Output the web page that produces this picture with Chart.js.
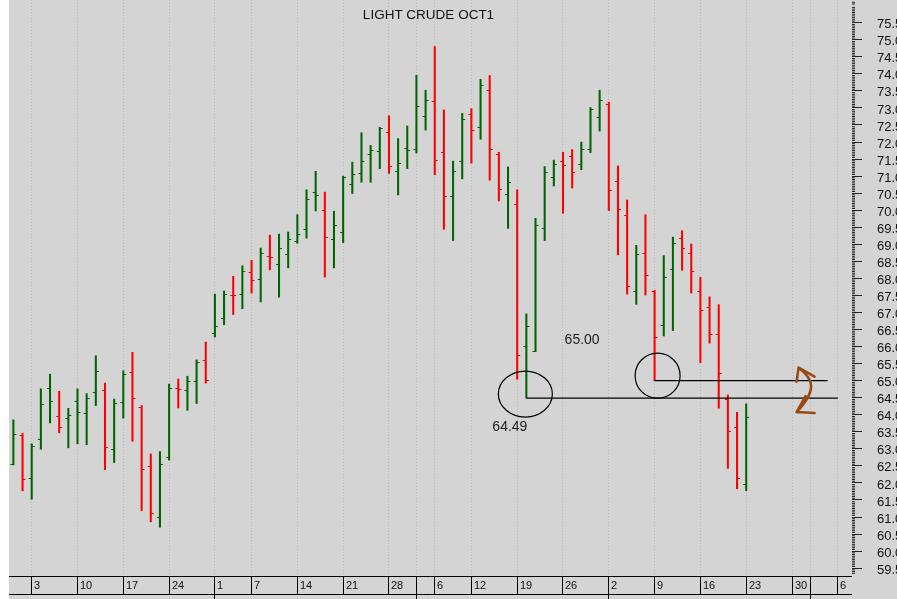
<!DOCTYPE html>
<html>
<head>
<meta charset="utf-8">
<title>Light Crude Oct1</title>
<script src="https://cdn.jsdelivr.net/npm/chart.js@4.4.0/dist/chart.umd.min.js"></script>
<style>
  html, body { margin: 0; padding: 0; background: #fff; }
  #wrap { width: 897px; height: 599px; }
</style>
</head>
<body>
<div id="wrap"><canvas id="myChart" width="897" height="599"></canvas></div>
<script>
'use strict';

const title = 'LIGHT CRUDE OCT1';

const dates = [
  'Apr 29', 'Apr 30',
  'May 3', 'May 4', 'May 5', 'May 6', 'May 7',
  'May 10', 'May 11', 'May 12', 'May 13', 'May 14',
  'May 17', 'May 18', 'May 19', 'May 20', 'May 21',
  'May 24', 'May 25', 'May 26', 'May 27', 'May 28',
  'Jun 1', 'Jun 2', 'Jun 3', 'Jun 4',
  'Jun 7', 'Jun 8', 'Jun 9', 'Jun 10', 'Jun 11',
  'Jun 14', 'Jun 15', 'Jun 16', 'Jun 17', 'Jun 18',
  'Jun 21', 'Jun 22', 'Jun 23', 'Jun 24', 'Jun 25',
  'Jun 28', 'Jun 29', 'Jun 30', 'Jul 1', 'Jul 2',
  'Jul 6', 'Jul 7', 'Jul 8', 'Jul 9',
  'Jul 12', 'Jul 13', 'Jul 14', 'Jul 15', 'Jul 16',
  'Jul 19', 'Jul 20', 'Jul 21', 'Jul 22', 'Jul 23',
  'Jul 26', 'Jul 27', 'Jul 28', 'Jul 29', 'Jul 30',
  'Aug 2', 'Aug 3', 'Aug 4', 'Aug 5', 'Aug 6',
  'Aug 9', 'Aug 10', 'Aug 11', 'Aug 12', 'Aug 13',
  'Aug 16', 'Aug 17', 'Aug 18', 'Aug 19', 'Aug 20',
  'Aug 23'
];

const opens = [
  62.55, 63.42,
  62.14, 63.28, 64.78, 63.95, 63.91,
  64.41, 64.05, 64.67, 64.72, 63.00,
  64.38, 65.25, 64.23, 62.51, 61.00,
  62.77, 64.78, 64.72, 64.98, 65.61,
  66.40, 66.84, 67.51, 67.55,
  68.19, 67.99, 68.66, 68.42, 68.73,
  69.09, 69.46, 70.53, 70.00, 69.16,
  69.36, 70.76, 71.09, 71.64, 71.73,
  72.30, 71.16, 71.83, 71.80, 72.76,
  73.20, 71.70, 70.43, 71.44,
  72.83, 72.43, 73.54, 71.64, 70.47,
  70.19, 66.02, 65.87, 69.49, 70.98,
  71.45, 71.60, 71.37, 71.80, 72.74,
  73.12, 70.87, 69.86, 67.62, 68.75,
  67.63, 66.63, 68.29, 69.19, 68.75,
  67.62, 67.16, 66.36, 64.46, 63.65,
  61.98
];

const highs = [
  63.85, 63.45,
  63.15, 64.76, 65.19, 64.69, 64.19,
  64.76, 64.62, 65.73, 64.93, 64.46,
  65.29, 65.83, 64.27, 62.85, 62.92,
  64.90, 65.05, 65.13, 65.61, 66.13,
  67.54, 67.63, 68.06, 68.37,
  68.53, 68.89, 69.27, 69.30, 69.36,
  69.87, 70.60, 71.14, 70.53, 69.97,
  71.00, 71.41, 72.27, 71.90, 72.43,
  72.77, 72.10, 72.47, 73.96, 73.52,
  74.80, 72.94, 71.44, 72.84,
  72.98, 73.84, 73.95, 71.70, 71.27,
  70.60, 66.96, 69.76, 71.28, 71.47,
  71.70, 71.78, 72.00, 73.01, 73.52,
  73.17, 71.30, 70.30, 68.97, 69.87,
  67.65, 68.67, 69.21, 69.40, 69.01,
  68.03, 67.46, 67.23, 64.58, 64.07,
  64.32
];

const lows = [
  62.53, 61.77,
  61.52, 62.99, 63.76, 63.47, 63.03,
  63.15, 63.12, 64.27, 62.39, 62.60,
  63.90, 63.22, 61.19, 60.86, 60.70,
  62.67, 64.20, 64.13, 64.33, 64.93,
  66.28, 66.64, 66.94, 67.11,
  67.57, 67.31, 68.25, 67.45, 68.31,
  69.03, 69.18, 69.98, 68.04, 68.31,
  69.05, 70.49, 70.82, 70.82, 71.22,
  71.08, 70.45, 71.22, 71.68, 72.35,
  71.04, 69.44, 69.11, 70.92,
  71.38, 72.08, 70.88, 70.27, 69.47,
  65.04, 64.49, 65.85, 69.11, 70.71,
  69.91, 70.65, 71.19, 71.69, 72.32,
  69.99, 68.69, 67.54, 67.24, 67.51,
  65.00, 66.31, 66.47, 68.24, 67.57,
  65.53, 66.10, 64.19, 62.43, 61.83,
  61.77
];

const closes = [
  63.45, 62.11,
  63.09, 64.31, 64.39, 63.65, 63.98,
  64.08, 64.49, 65.29, 63.04, 64.35,
  65.19, 64.49, 62.40, 61.11, 62.55,
  64.78, 64.77, 64.98, 65.56, 65.01,
  66.61, 67.55, 67.50, 68.23,
  67.95, 68.75, 68.64, 68.88, 69.16,
  69.30, 70.33, 70.46, 69.20, 69.56,
  70.98, 71.06, 71.44, 71.77, 72.40,
  71.29, 71.39, 71.77, 73.07, 73.23,
  71.46, 70.43, 71.16, 72.67,
  72.36, 73.68, 71.80, 70.62, 70.83,
  65.76, 66.61, 69.56, 71.13, 71.37,
  71.33, 71.13, 71.80, 72.97, 73.24,
  70.60, 70.03, 67.79, 68.73, 68.09,
  66.28, 68.05, 69.03, 68.89, 68.23,
  67.07, 66.36, 65.22, 63.53, 62.15,
  63.92
];

// session numbers (0 = Apr 29) of the weekly separators on the date strip
const tickPos = [2, 7, 12, 17, 22, 26, 31, 36, 41, 44, 46, 50, 55, 60, 65, 70, 75, 80, 85, 87, 90];
const tickText = ['3', '10', '17', '24', '1', '7', '14', '21', '28', '', '6', '12', '19', '26', '2', '9', '16', '23', '30', '', '6'];
const monthStarts = [22, 44, 65, 87];

const priceTicks = [
  59.5, 60.0, 60.5, 61.0, 61.5, 62.0, 62.5, 63.0, 63.5, 64.0, 64.5,
  65.0, 65.5, 66.0, 66.5, 67.0, 67.5, 68.0, 68.5, 69.0, 69.5, 70.0,
  70.5, 71.0, 71.5, 72.0, 72.5, 73.0, 73.5, 74.0, 74.5, 75.0, 75.5
];

const FONT = '"Liberation Sans", Arial, sans-serif';
const GREEN = 'rgb(0, 100, 0)';
const RED = 'rgb(255, 0, 0)';

// bar colour follows the close against the previous close
const barColors = closes.map((c, i) => (i === 0 || c >= closes[i - 1]) ? GREEN : RED);

const data = {
  labels: dates,
  datasets: [{
    label: title,
    data: dates.map((d, i) => ({ x: i, y: [lows[i], highs[i]] })),
    backgroundColor: barColors,
    borderWidth: 0,
    barThickness: 1.4
  }]
};

// grey panel + dotted weekly grid
const backdrop = {
  id: 'backdrop',
  beforeDraw(chart) {
    const { ctx, width, height, chartArea: { left } } = chart;
    ctx.save();
    ctx.fillStyle = '#fff';
    ctx.fillRect(0, 0, width, height);
    ctx.fillStyle = '#d4d4d4';
    ctx.fillRect(left, 0, width - left, height);
    ctx.restore();
  },
  beforeDatasetsDraw(chart) {
    const { ctx, chartArea: { top, bottom }, scales: { x } } = chart;
    ctx.save();
    ctx.strokeStyle = '#b9b9b9';
    ctx.lineWidth = 1;
    ctx.setLineDash([1, 2]);
    tickPos.forEach(p => {
      const px = Math.floor(x.getPixelForValue(p)) + 0.5;
      ctx.beginPath();
      ctx.moveTo(px, top);
      ctx.lineTo(px, bottom);
      ctx.stroke();
    });
    ctx.restore();
  }
};

// open tick on the left, close tick on the right
const ohlcTicks = {
  id: 'ohlcTicks',
  afterDatasetsDraw(chart) {
    const { ctx, scales: { x, y } } = chart;
    ctx.save();
    ctx.lineWidth = 1;
    dates.forEach((d, i) => {
      const px = x.getPixelForValue(i);
      const yo = Math.round(y.getPixelForValue(opens[i])) + 0.5;
      const yc = Math.round(y.getPixelForValue(closes[i])) + 0.5;
      ctx.strokeStyle = barColors[i];
      ctx.beginPath();
      ctx.moveTo(px - 3, yo);
      ctx.lineTo(px, yo);
      ctx.moveTo(px, yc);
      ctx.lineTo(px + 3, yc);
      ctx.stroke();
    });
    ctx.restore();
  }
};

// hand drawn notes: circled lows, level lines, brown arrow
const notes = {
  id: 'notes',
  afterDatasetsDraw(chart) {
    const { ctx, scales: { x, y } } = chart;
    const ax = x.getPixelForValue(56), ay = y.getPixelForValue(lows[56]);
    const bx = x.getPixelForValue(70), by = y.getPixelForValue(lows[70]);
    ctx.save();
    ctx.strokeStyle = '#000';
    ctx.lineWidth = 1.2;

    ctx.beginPath();
    ctx.moveTo(ax, ay);
    ctx.lineTo(x.getPixelForValue(90), ay);
    ctx.moveTo(bx, by);
    ctx.lineTo(x.getPixelForValue(88.9), by);
    ctx.stroke();

    ctx.beginPath();
    ctx.ellipse(ax - 1, ay - 4, 27, 23, 0, 0, Math.PI * 2);
    ctx.stroke();
    ctx.beginPath();
    ctx.ellipse(bx + 3, by - 5, 22.5, 22.5, 0, 0, Math.PI * 2);
    ctx.stroke();

    ctx.fillStyle = '#222';
    ctx.font = '14px ' + FONT;
    ctx.fillText(lows[56].toFixed(2), ax - 34, ay + 33);
    ctx.fillText(lows[70].toFixed(2), bx - 90, by - 37);

    const px = x.getPixelForValue(86.7);
    const t = { x: px - 9, y: by - 13 };
    const b = { x: px - 11, y: ay + 14 };
    ctx.strokeStyle = 'rgb(150, 75, 20)';
    ctx.lineWidth = 2.6;
    ctx.lineCap = 'round';
    ctx.lineJoin = 'round';
    ctx.beginPath();
    ctx.moveTo(t.x, t.y);
    ctx.bezierCurveTo(px + 6, by - 2, px + 10, ay - 8, b.x, b.y);
    ctx.moveTo(t.x + 16, t.y + 9);
    ctx.lineTo(t.x, t.y);
    ctx.lineTo(t.x - 2, t.y + 14);
    ctx.moveTo(b.x + 18, b.y + 1);
    ctx.lineTo(b.x, b.y);
    ctx.lineTo(b.x + 9, b.y - 16);
    ctx.stroke();
    ctx.restore();
  }
};

// boxed date strip, minor price ticks, title
const frame = {
  id: 'frame',
  afterDraw(chart) {
    const { ctx, height, chartArea: { left, right, bottom }, scales: { x, y } } = chart;
    const top = bottom + 1;
    const base = bottom + 19;
    ctx.save();
    ctx.strokeStyle = '#000';
    ctx.lineWidth = 1;
    ctx.beginPath();
    ctx.moveTo(left, top + 0.5);
    ctx.lineTo(right, top + 0.5);
    ctx.moveTo(left, base + 0.5);
    ctx.lineTo(right, base + 0.5);
    tickPos.forEach(p => {
      const px = Math.floor(x.getPixelForValue(p)) + 0.5;
      ctx.moveTo(px, top);
      ctx.lineTo(px, monthStarts.includes(p) ? height : base);
    });
    ctx.stroke();

    ctx.fillStyle = '#111';
    ctx.font = '11px ' + FONT;
    ctx.textBaseline = 'middle';
    tickPos.forEach((p, i) => {
      ctx.fillText(tickText[i], Math.floor(x.getPixelForValue(p)) + 3, (top + base) / 2 + 1);
    });

    ctx.strokeStyle = '#222';
    ctx.beginPath();
    for (let k = 1187; k <= 1522; k++) {
      if (k % 10 === 0) continue;
      const py = y.getPixelForValue(k / 20);
      ctx.moveTo(right, py);
      ctx.lineTo(right + 3, py);
    }
    ctx.stroke();

    ctx.font = '13.5px ' + FONT;
    ctx.textAlign = 'center';
    ctx.fillText(title, (left + right) / 2 - 2, 15);
    ctx.restore();
  }
};

const config = {
  type: 'bar',
  data,
  options: {
    responsive: false,
    animation: false,
    devicePixelRatio: 1,
    layout: { padding: { left: 9, top: 0, right: 0, bottom: 24 } },
    plugins: {
      legend: { display: false },
      tooltip: { enabled: false }
    },
    scales: {
      x: {
        type: 'linear',
        display: false,
        offset: false,
        min: -0.478,
        max: 91.55
      },
      y: {
        type: 'linear',
        position: 'right',
        min: 59.3,
        max: 76.166,
        afterBuildTicks: scale => {
          scale.ticks = priceTicks.map(v => ({ value: v }));
        },
        afterFit: scale => {
          scale.width = 45;
          scale.paddingTop = 0;
          scale.paddingBottom = 0;
        },
        grid: { drawOnChartArea: false, tickLength: 10, tickColor: '#222', lineWidth: 1 },
        border: { display: false },
        ticks: {
          autoSkip: false,
          color: '#111',
          padding: 15,
          labelOffset: 2,
          font: { family: FONT, size: 13 },
          callback: v => v.toFixed(1)
        }
      }
    }
  },
  plugins: [backdrop, ohlcTicks, notes, frame]
};

const myChart = new Chart(document.getElementById('myChart'), config);
</script>
</body>
</html>
